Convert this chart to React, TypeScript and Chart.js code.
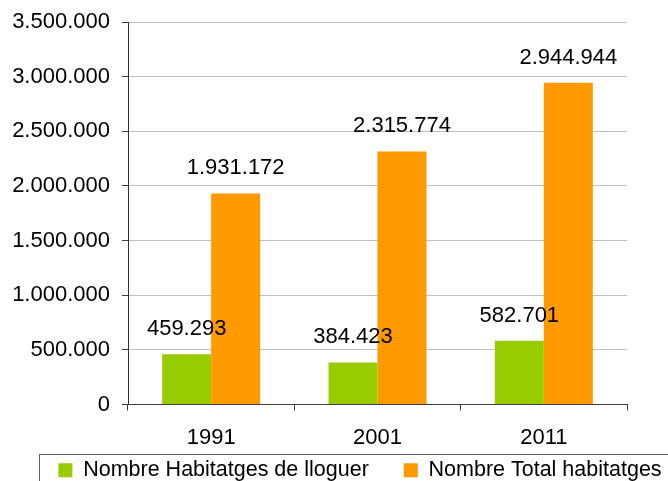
import React, { useEffect, useRef } from "react";
import { Chart, registerables } from "chart.js";

Chart.register(...registerables);

const categories = ["1991", "2001", "2011"];
const seriesNames = ["Nombre Habitatges de lloguer", "Nombre Total habitatges"];
const rentalHomes = [459293, 384423, 582701];
const totalHomes = [1931172, 2315774, 2944944];
const yMin = 0;
const yMax = 3500000;
const yStep = 500000;

const FONT = "'Liberation Sans', Arial, sans-serif";
const W = 720;
const H = 521;
const LEGEND_PAD = 35;
const LEGEND_SHIFT = 30;

const fmt = (v: number) => String(Math.round(v)).replace(/\B(?=(\d{3})+(?!\d))/g, ".");

const valueLabels = {
  id: "valueLabels",
  afterDatasetsDraw(chart: any) {
    const ctx = chart.ctx;
    ctx.save();
    ctx.font = `22px ${FONT}`;
    ctx.fillStyle = "#000";
    ctx.textAlign = "center";
    ctx.textBaseline = "alphabetic";
    chart.data.datasets.forEach((ds: any, i: number) => {
      const meta = chart.getDatasetMeta(i);
      meta.data.forEach((el: any, j: number) => {
        ctx.fillText(fmt(ds.data[j]), el.x, el.y - 19);
      });
    });
    ctx.restore();
  },
};

// pull the legend row up so its items sit inside the framed band
const legendShift = {
  id: "legendShift",
  afterLayout(chart: any) {
    const lg = chart.legend;
    if (!lg) return;
    lg.top -= LEGEND_SHIFT;
    lg.bottom -= LEGEND_SHIFT;
  },
};

const legendFrame = {
  id: "legendFrame",
  afterDraw(chart: any) {
    const lg = chart.legend;
    if (!lg || !lg.legendHitBoxes || !lg.legendHitBoxes.length) return;
    const first = lg.legendHitBoxes[0];
    const left = Math.round(first.left - 19) + 0.5;
    const top = Math.floor(lg.top + LEGEND_SHIFT) + 0.5;
    const right = chart.width - (left - 0.5) + 0.5;
    const ctx = chart.ctx;
    ctx.save();
    ctx.strokeStyle = "#606060";
    ctx.lineWidth = 1;
    ctx.strokeRect(left, top, right - left, 200);
    ctx.restore();
  },
};

export default function App() {
  const ref = useRef<HTMLCanvasElement | null>(null);
  useEffect(() => {
    document.body.style.margin = "0";
    document.body.style.overflow = "hidden";
    const canvas = ref.current!;
    const chart = new Chart(canvas, {
      type: "bar",
      data: {
        labels: categories,
        datasets: [
          { label: seriesNames[0], data: rentalHomes, backgroundColor: "#99CC00", borderWidth: 0 },
          { label: seriesNames[1], data: totalHomes, backgroundColor: "#FF9900", borderWidth: 0 },
        ],
      },
      options: {
        animation: false,
        responsive: false,
        devicePixelRatio: 1,
        layout: { autoPadding: false, padding: { top: 22, left: 0, right: 0, bottom: 0 } },
        datasets: { bar: { barPercentage: 1, categoryPercentage: 0.589 } },
        plugins: {
          tooltip: { enabled: false },
          legend: {
            position: "bottom",
            align: "center",
            labels: {
              font: { family: FONT, size: 21.5 },
              color: "#000",
              boxWidth: 14,
              boxHeight: 14,
              padding: LEGEND_PAD,
            },
          },
        },
        scales: {
          x: {
            offset: true,
            grid: { offset: true, drawOnChartArea: false, drawTicks: true, tickLength: 6, tickColor: "#404040" },
            border: { display: true, color: "#404040", width: 1 },
            ticks: { font: { family: FONT, size: 22 }, color: "#000", padding: 14 },
            afterFit: (s: any) => { s.height = 50; },
          },
          y: {
            min: yMin,
            max: yMax,
            ticks: {
              stepSize: yStep,
              font: { family: FONT, size: 22, lineHeight: 0.9 },
              color: "#000",
              padding: 12,
              callback: (v: any) => fmt(Number(v)),
            },
            grid: { color: "#c0c0c0", drawTicks: true, tickLength: 6, tickColor: "#404040" },
            border: { display: true, color: "#303030", width: 1 },
            afterFit: (s: any) => { s.width = 128; },
          },
          yRight: {
            position: "right",
            display: true,
            grid: { display: false, drawTicks: false },
            border: { display: false },
            ticks: { display: false },
            afterFit: (s: any) => { s.width = 93; },
          },
        },
      },
      plugins: [valueLabels, legendShift, legendFrame],
    } as any);
    return () => chart.destroy();
  }, []);
  return (
    <div style={{ width: W, height: H, position: "relative" }}>
      <canvas ref={ref} width={W} height={H} style={{ display: "block", width: W, height: H }} />
    </div>
  );
}
